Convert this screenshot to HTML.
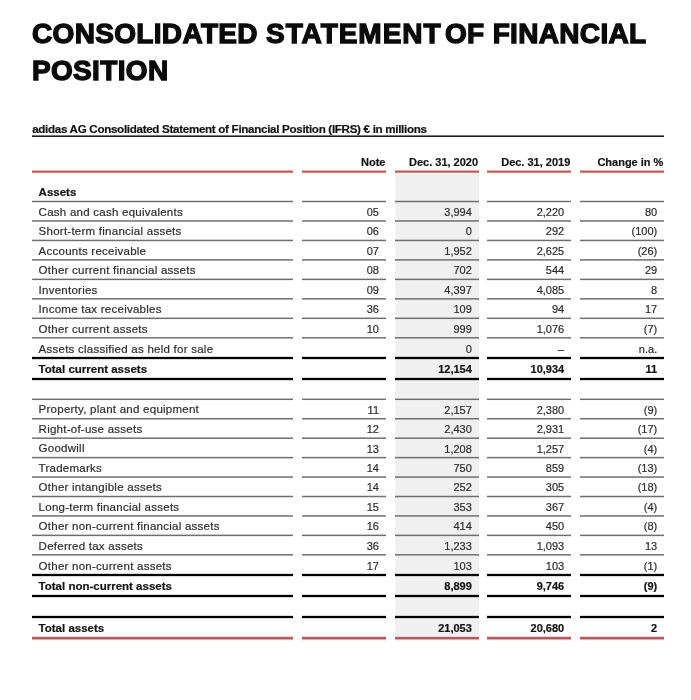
<!DOCTYPE html>
<html><head><meta charset="utf-8"><style>
html,body{margin:0;padding:0;background:#fff;}
body{width:691px;height:700px;position:relative;overflow:hidden;font-family:"Liberation Sans",Arial,sans-serif;}
.ln{position:absolute;}
#wrap{position:absolute;left:0;top:0;width:691px;height:700px;will-change:transform;background:#fff;}
.t{position:absolute;white-space:nowrap;line-height:0;height:0;font-size:11px;color:#2e2e2e;-webkit-text-stroke:0.2px currentColor;}
.t.r{text-align:right;}
.lb{letter-spacing:0.25px;font-size:11.5px;}
.hd{font-weight:bold;color:#141414;}
.bd{font-weight:bold;color:#141414;}
.lb.bd{letter-spacing:0px;}
h1{position:absolute;left:32px;top:0;margin:0;font-size:28px;line-height:37px;font-weight:bold;letter-spacing:0.33px;color:#0a0a0a;-webkit-text-stroke:1.3px #0a0a0a;}
.sub{position:absolute;left:32.2px;font-size:11.6px;font-weight:bold;color:#111;letter-spacing:-0.3px;-webkit-text-stroke:0.2px #111;}
</style></head><body><div id="wrap">
<h1 style="top:15.4px">CONSOLIDATED <span style="letter-spacing:0.95px;margin-right:-4.6px">STATEMENT</span> OF FINANCIAL<br>POSITION</h1>
<div class="t sub" style="top:128.7px">adidas AG Consolidated Statement of Financial Position (IFRS) € in millions</div>
<div class="ln" style="left:395px;top:173px;width:84px;height:464px;background:#f0f0f0"></div>
<div class="t r hd" style="right:305.50px;top:161.59px">Note</div>
<div class="t r hd" style="right:212.90px;top:161.59px">Dec. 31, 2020</div>
<div class="t r hd" style="right:120.70px;top:161.59px">Dec. 31, 2019</div>
<div class="t r hd" style="right:27.60px;top:161.59px">Change in %</div>
<div class="ln" style="left:32px;top:170px;width:261px;height:4px;background:linear-gradient(#f2a9ac 0px 1px,#b25a58 1px 2px,#c3948a 2px 3px,#f8ebe4 3px 4px)"></div>
<div class="ln" style="left:302px;top:170px;width:84px;height:4px;background:linear-gradient(#f2a9ac 0px 1px,#b25a58 1px 2px,#c3948a 2px 3px,#f8ebe4 3px 4px)"></div>
<div class="ln" style="left:395px;top:170px;width:84px;height:4px;background:linear-gradient(#f2a9ac 0px 1px,#b25a58 1px 2px,#c3948a 2px 3px,#f8ebe4 3px 4px)"></div>
<div class="ln" style="left:487px;top:170px;width:84px;height:4px;background:linear-gradient(#f2a9ac 0px 1px,#b25a58 1px 2px,#c3948a 2px 3px,#f8ebe4 3px 4px)"></div>
<div class="ln" style="left:580px;top:170px;width:84px;height:4px;background:linear-gradient(#f2a9ac 0px 1px,#b25a58 1px 2px,#c3948a 2px 3px,#f8ebe4 3px 4px)"></div>
<div class="t bd lb" style="left:38.6px;top:191.62px">Assets</div>
<div class="ln" style="left:32px;top:200px;width:261px;height:3px;background:linear-gradient(#dbdbdb 0px 1px,#6e6e6e 1px 2px,#dbdbdb 2px 3px)"></div>
<div class="ln" style="left:302px;top:200px;width:84px;height:3px;background:linear-gradient(#dbdbdb 0px 1px,#6e6e6e 1px 2px,#dbdbdb 2px 3px)"></div>
<div class="ln" style="left:395px;top:200px;width:84px;height:3px;background:linear-gradient(#d0d0d0 0px 1px,#6e6e6e 1px 2px,#d0d0d0 2px 3px)"></div>
<div class="ln" style="left:487px;top:200px;width:84px;height:3px;background:linear-gradient(#dbdbdb 0px 1px,#6e6e6e 1px 2px,#dbdbdb 2px 3px)"></div>
<div class="ln" style="left:580px;top:200px;width:84px;height:3px;background:linear-gradient(#dbdbdb 0px 1px,#6e6e6e 1px 2px,#dbdbdb 2px 3px)"></div>
<div class="ln" style="left:32px;top:220px;width:261px;height:2px;background:linear-gradient(#8e8e8e 0px 1px,#979797 1px 2px)"></div>
<div class="ln" style="left:302px;top:220px;width:84px;height:2px;background:linear-gradient(#8e8e8e 0px 1px,#979797 1px 2px)"></div>
<div class="ln" style="left:395px;top:220px;width:84px;height:2px;background:linear-gradient(#8b8b8b 0px 1px,#929292 1px 2px)"></div>
<div class="ln" style="left:487px;top:220px;width:84px;height:2px;background:linear-gradient(#8e8e8e 0px 1px,#979797 1px 2px)"></div>
<div class="ln" style="left:580px;top:220px;width:84px;height:2px;background:linear-gradient(#8e8e8e 0px 1px,#979797 1px 2px)"></div>
<div class="ln" style="left:32px;top:239px;width:261px;height:3px;background:linear-gradient(#d2d2d2 0px 1px,#6e6e6e 1px 2px,#e3e3e3 2px 3px)"></div>
<div class="ln" style="left:302px;top:239px;width:84px;height:3px;background:linear-gradient(#d2d2d2 0px 1px,#6e6e6e 1px 2px,#e3e3e3 2px 3px)"></div>
<div class="ln" style="left:395px;top:239px;width:84px;height:3px;background:linear-gradient(#c8c8c8 0px 1px,#6e6e6e 1px 2px,#d7d7d7 2px 3px)"></div>
<div class="ln" style="left:487px;top:239px;width:84px;height:3px;background:linear-gradient(#d2d2d2 0px 1px,#6e6e6e 1px 2px,#e3e3e3 2px 3px)"></div>
<div class="ln" style="left:580px;top:239px;width:84px;height:3px;background:linear-gradient(#d2d2d2 0px 1px,#6e6e6e 1px 2px,#e3e3e3 2px 3px)"></div>
<div class="ln" style="left:32px;top:259px;width:261px;height:2px;background:linear-gradient(#858585 0px 1px,#9f9f9f 1px 2px)"></div>
<div class="ln" style="left:302px;top:259px;width:84px;height:2px;background:linear-gradient(#858585 0px 1px,#9f9f9f 1px 2px)"></div>
<div class="ln" style="left:395px;top:259px;width:84px;height:2px;background:linear-gradient(#838383 0px 1px,#9a9a9a 1px 2px)"></div>
<div class="ln" style="left:487px;top:259px;width:84px;height:2px;background:linear-gradient(#858585 0px 1px,#9f9f9f 1px 2px)"></div>
<div class="ln" style="left:580px;top:259px;width:84px;height:2px;background:linear-gradient(#858585 0px 1px,#9f9f9f 1px 2px)"></div>
<div class="ln" style="left:32px;top:278px;width:261px;height:3px;background:linear-gradient(#c9c9c9 0px 1px,#6e6e6e 1px 2px,#ececec 2px 3px)"></div>
<div class="ln" style="left:302px;top:278px;width:84px;height:3px;background:linear-gradient(#c9c9c9 0px 1px,#6e6e6e 1px 2px,#ececec 2px 3px)"></div>
<div class="ln" style="left:395px;top:278px;width:84px;height:3px;background:linear-gradient(#c0c0c0 0px 1px,#6e6e6e 1px 2px,#dfdfdf 2px 3px)"></div>
<div class="ln" style="left:487px;top:278px;width:84px;height:3px;background:linear-gradient(#c9c9c9 0px 1px,#6e6e6e 1px 2px,#ececec 2px 3px)"></div>
<div class="ln" style="left:580px;top:278px;width:84px;height:3px;background:linear-gradient(#c9c9c9 0px 1px,#6e6e6e 1px 2px,#ececec 2px 3px)"></div>
<div class="ln" style="left:32px;top:298px;width:261px;height:2px;background:linear-gradient(#7d7d7d 0px 1px,#a8a8a8 1px 2px)"></div>
<div class="ln" style="left:302px;top:298px;width:84px;height:2px;background:linear-gradient(#7d7d7d 0px 1px,#a8a8a8 1px 2px)"></div>
<div class="ln" style="left:395px;top:298px;width:84px;height:2px;background:linear-gradient(#7b7b7b 0px 1px,#a2a2a2 1px 2px)"></div>
<div class="ln" style="left:487px;top:298px;width:84px;height:2px;background:linear-gradient(#7d7d7d 0px 1px,#a8a8a8 1px 2px)"></div>
<div class="ln" style="left:580px;top:298px;width:84px;height:2px;background:linear-gradient(#7d7d7d 0px 1px,#a8a8a8 1px 2px)"></div>
<div class="ln" style="left:32px;top:317px;width:261px;height:3px;background:linear-gradient(#c1c1c1 0px 1px,#6e6e6e 1px 2px,#f5f5f5 2px 3px)"></div>
<div class="ln" style="left:302px;top:317px;width:84px;height:3px;background:linear-gradient(#c1c1c1 0px 1px,#6e6e6e 1px 2px,#f5f5f5 2px 3px)"></div>
<div class="ln" style="left:395px;top:317px;width:84px;height:3px;background:linear-gradient(#b8b8b8 0px 1px,#6e6e6e 1px 2px,#e7e7e7 2px 3px)"></div>
<div class="ln" style="left:487px;top:317px;width:84px;height:3px;background:linear-gradient(#c1c1c1 0px 1px,#6e6e6e 1px 2px,#f5f5f5 2px 3px)"></div>
<div class="ln" style="left:580px;top:317px;width:84px;height:3px;background:linear-gradient(#c1c1c1 0px 1px,#6e6e6e 1px 2px,#f5f5f5 2px 3px)"></div>
<div class="ln" style="left:32px;top:337px;width:261px;height:2px;background:linear-gradient(#747474 0px 1px,#b1b1b1 1px 2px)"></div>
<div class="ln" style="left:302px;top:337px;width:84px;height:2px;background:linear-gradient(#747474 0px 1px,#b1b1b1 1px 2px)"></div>
<div class="ln" style="left:395px;top:337px;width:84px;height:2px;background:linear-gradient(#737373 0px 1px,#aaaaaa 1px 2px)"></div>
<div class="ln" style="left:487px;top:337px;width:84px;height:2px;background:linear-gradient(#747474 0px 1px,#b1b1b1 1px 2px)"></div>
<div class="ln" style="left:580px;top:337px;width:84px;height:2px;background:linear-gradient(#747474 0px 1px,#b1b1b1 1px 2px)"></div>
<div class="t lb " style="left:38.6px;top:211.69px">Cash and cash equivalents</div>
<div class="t r nm " style="right:312.00px;top:211.86px">05</div>
<div class="t r nm " style="right:219.20px;top:211.86px">3,994</div>
<div class="t r nm " style="right:126.80px;top:211.86px">2,220</div>
<div class="t r nm " style="right:33.80px;top:211.86px">80</div>
<div class="t lb " style="left:38.6px;top:231.16px">Short-term financial assets</div>
<div class="t r nm " style="right:312.00px;top:231.33px">06</div>
<div class="t r nm " style="right:219.20px;top:231.33px">0</div>
<div class="t r nm " style="right:126.80px;top:231.33px">292</div>
<div class="t r nm " style="right:33.80px;top:231.33px">(100)</div>
<div class="t lb " style="left:38.6px;top:250.63px">Accounts receivable</div>
<div class="t r nm " style="right:312.00px;top:250.80px">07</div>
<div class="t r nm " style="right:219.20px;top:250.80px">1,952</div>
<div class="t r nm " style="right:126.80px;top:250.80px">2,625</div>
<div class="t r nm " style="right:33.80px;top:250.80px">(26)</div>
<div class="t lb " style="left:38.6px;top:270.10px">Other current financial assets</div>
<div class="t r nm " style="right:312.00px;top:270.27px">08</div>
<div class="t r nm " style="right:219.20px;top:270.27px">702</div>
<div class="t r nm " style="right:126.80px;top:270.27px">544</div>
<div class="t r nm " style="right:33.80px;top:270.27px">29</div>
<div class="t lb " style="left:38.6px;top:289.57px">Inventories</div>
<div class="t r nm " style="right:312.00px;top:289.74px">09</div>
<div class="t r nm " style="right:219.20px;top:289.74px">4,397</div>
<div class="t r nm " style="right:126.80px;top:289.74px">4,085</div>
<div class="t r nm " style="right:33.80px;top:289.74px">8</div>
<div class="t lb " style="left:38.6px;top:309.04px">Income tax receivables</div>
<div class="t r nm " style="right:312.00px;top:309.21px">36</div>
<div class="t r nm " style="right:219.20px;top:309.21px">109</div>
<div class="t r nm " style="right:126.80px;top:309.21px">94</div>
<div class="t r nm " style="right:33.80px;top:309.21px">17</div>
<div class="t lb " style="left:38.6px;top:328.51px">Other current assets</div>
<div class="t r nm " style="right:312.00px;top:328.68px">10</div>
<div class="t r nm " style="right:219.20px;top:328.68px">999</div>
<div class="t r nm " style="right:126.80px;top:328.68px">1,076</div>
<div class="t r nm " style="right:33.80px;top:328.68px">(7)</div>
<div class="t lb " style="left:38.6px;top:348.72px">Assets classified as held for sale</div>
<div class="t r nm " style="right:219.20px;top:348.89px">0</div>
<div class="t r nm " style="right:126.80px;top:348.89px">–</div>
<div class="t r nm " style="right:33.80px;top:348.89px">n.a.</div>
<div class="ln" style="left:32px;top:356px;width:261px;height:4px;background:linear-gradient(#d9d9d9 0px 1px,#000000 1px 2px,#000000 2px 3px,#d9d9d9 3px 4px)"></div>
<div class="ln" style="left:302px;top:356px;width:84px;height:4px;background:linear-gradient(#d9d9d9 0px 1px,#000000 1px 2px,#000000 2px 3px,#d9d9d9 3px 4px)"></div>
<div class="ln" style="left:395px;top:356px;width:84px;height:4px;background:linear-gradient(#cccccc 0px 1px,#000000 1px 2px,#000000 2px 3px,#cccccc 3px 4px)"></div>
<div class="ln" style="left:487px;top:356px;width:84px;height:4px;background:linear-gradient(#d9d9d9 0px 1px,#000000 1px 2px,#000000 2px 3px,#d9d9d9 3px 4px)"></div>
<div class="ln" style="left:580px;top:356px;width:84px;height:4px;background:linear-gradient(#d9d9d9 0px 1px,#000000 1px 2px,#000000 2px 3px,#d9d9d9 3px 4px)"></div>
<div class="t lb bd" style="left:38.6px;top:369.22px">Total current assets</div>
<div class="t r nm bd" style="right:219.20px;top:369.39px">12,154</div>
<div class="t r nm bd" style="right:126.80px;top:369.39px">10,934</div>
<div class="t r nm bd" style="right:33.80px;top:369.39px">11</div>
<div class="ln" style="left:32px;top:377px;width:261px;height:4px;background:linear-gradient(#d9d9d9 0px 1px,#000000 1px 2px,#000000 2px 3px,#d9d9d9 3px 4px)"></div>
<div class="ln" style="left:302px;top:377px;width:84px;height:4px;background:linear-gradient(#d9d9d9 0px 1px,#000000 1px 2px,#000000 2px 3px,#d9d9d9 3px 4px)"></div>
<div class="ln" style="left:395px;top:377px;width:84px;height:4px;background:linear-gradient(#cccccc 0px 1px,#000000 1px 2px,#000000 2px 3px,#cccccc 3px 4px)"></div>
<div class="ln" style="left:487px;top:377px;width:84px;height:4px;background:linear-gradient(#d9d9d9 0px 1px,#000000 1px 2px,#000000 2px 3px,#d9d9d9 3px 4px)"></div>
<div class="ln" style="left:580px;top:377px;width:84px;height:4px;background:linear-gradient(#d9d9d9 0px 1px,#000000 1px 2px,#000000 2px 3px,#d9d9d9 3px 4px)"></div>
<div class="ln" style="left:32px;top:398px;width:261px;height:3px;background:linear-gradient(#bebebe 0px 1px,#6e6e6e 1px 2px,#f8f8f8 2px 3px)"></div>
<div class="ln" style="left:302px;top:398px;width:84px;height:3px;background:linear-gradient(#bebebe 0px 1px,#6e6e6e 1px 2px,#f8f8f8 2px 3px)"></div>
<div class="ln" style="left:395px;top:398px;width:84px;height:3px;background:linear-gradient(#b6b6b6 0px 1px,#6e6e6e 1px 2px,#e9e9e9 2px 3px)"></div>
<div class="ln" style="left:487px;top:398px;width:84px;height:3px;background:linear-gradient(#bebebe 0px 1px,#6e6e6e 1px 2px,#f8f8f8 2px 3px)"></div>
<div class="ln" style="left:580px;top:398px;width:84px;height:3px;background:linear-gradient(#bebebe 0px 1px,#6e6e6e 1px 2px,#f8f8f8 2px 3px)"></div>
<div class="ln" style="left:32px;top:417px;width:261px;height:3px;background:linear-gradient(#fefefe 0px 1px,#6e6e6e 1px 2px,#b8b8b8 2px 3px)"></div>
<div class="ln" style="left:302px;top:417px;width:84px;height:3px;background:linear-gradient(#fefefe 0px 1px,#6e6e6e 1px 2px,#b8b8b8 2px 3px)"></div>
<div class="ln" style="left:395px;top:417px;width:84px;height:3px;background:linear-gradient(#efefef 0px 1px,#6e6e6e 1px 2px,#b0b0b0 2px 3px)"></div>
<div class="ln" style="left:487px;top:417px;width:84px;height:3px;background:linear-gradient(#fefefe 0px 1px,#6e6e6e 1px 2px,#b8b8b8 2px 3px)"></div>
<div class="ln" style="left:580px;top:417px;width:84px;height:3px;background:linear-gradient(#fefefe 0px 1px,#6e6e6e 1px 2px,#b8b8b8 2px 3px)"></div>
<div class="ln" style="left:32px;top:437px;width:261px;height:2px;background:linear-gradient(#acacac 0px 1px,#787878 1px 2px)"></div>
<div class="ln" style="left:302px;top:437px;width:84px;height:2px;background:linear-gradient(#acacac 0px 1px,#787878 1px 2px)"></div>
<div class="ln" style="left:395px;top:437px;width:84px;height:2px;background:linear-gradient(#a6a6a6 0px 1px,#777777 1px 2px)"></div>
<div class="ln" style="left:487px;top:437px;width:84px;height:2px;background:linear-gradient(#acacac 0px 1px,#787878 1px 2px)"></div>
<div class="ln" style="left:580px;top:437px;width:84px;height:2px;background:linear-gradient(#acacac 0px 1px,#787878 1px 2px)"></div>
<div class="ln" style="left:32px;top:456px;width:261px;height:3px;background:linear-gradient(#ececec 0px 1px,#6e6e6e 1px 2px,#c9c9c9 2px 3px)"></div>
<div class="ln" style="left:302px;top:456px;width:84px;height:3px;background:linear-gradient(#ececec 0px 1px,#6e6e6e 1px 2px,#c9c9c9 2px 3px)"></div>
<div class="ln" style="left:395px;top:456px;width:84px;height:3px;background:linear-gradient(#dfdfdf 0px 1px,#6e6e6e 1px 2px,#c0c0c0 2px 3px)"></div>
<div class="ln" style="left:487px;top:456px;width:84px;height:3px;background:linear-gradient(#ececec 0px 1px,#6e6e6e 1px 2px,#c9c9c9 2px 3px)"></div>
<div class="ln" style="left:580px;top:456px;width:84px;height:3px;background:linear-gradient(#ececec 0px 1px,#6e6e6e 1px 2px,#c9c9c9 2px 3px)"></div>
<div class="ln" style="left:32px;top:476px;width:261px;height:2px;background:linear-gradient(#9b9b9b 0px 1px,#8a8a8a 1px 2px)"></div>
<div class="ln" style="left:302px;top:476px;width:84px;height:2px;background:linear-gradient(#9b9b9b 0px 1px,#8a8a8a 1px 2px)"></div>
<div class="ln" style="left:395px;top:476px;width:84px;height:2px;background:linear-gradient(#969696 0px 1px,#878787 1px 2px)"></div>
<div class="ln" style="left:487px;top:476px;width:84px;height:2px;background:linear-gradient(#9b9b9b 0px 1px,#8a8a8a 1px 2px)"></div>
<div class="ln" style="left:580px;top:476px;width:84px;height:2px;background:linear-gradient(#9b9b9b 0px 1px,#8a8a8a 1px 2px)"></div>
<div class="ln" style="left:32px;top:495px;width:261px;height:3px;background:linear-gradient(#dbdbdb 0px 1px,#6e6e6e 1px 2px,#dbdbdb 2px 3px)"></div>
<div class="ln" style="left:302px;top:495px;width:84px;height:3px;background:linear-gradient(#dbdbdb 0px 1px,#6e6e6e 1px 2px,#dbdbdb 2px 3px)"></div>
<div class="ln" style="left:395px;top:495px;width:84px;height:3px;background:linear-gradient(#d0d0d0 0px 1px,#6e6e6e 1px 2px,#d0d0d0 2px 3px)"></div>
<div class="ln" style="left:487px;top:495px;width:84px;height:3px;background:linear-gradient(#dbdbdb 0px 1px,#6e6e6e 1px 2px,#dbdbdb 2px 3px)"></div>
<div class="ln" style="left:580px;top:495px;width:84px;height:3px;background:linear-gradient(#dbdbdb 0px 1px,#6e6e6e 1px 2px,#dbdbdb 2px 3px)"></div>
<div class="ln" style="left:32px;top:515px;width:261px;height:2px;background:linear-gradient(#8a8a8a 0px 1px,#9b9b9b 1px 2px)"></div>
<div class="ln" style="left:302px;top:515px;width:84px;height:2px;background:linear-gradient(#8a8a8a 0px 1px,#9b9b9b 1px 2px)"></div>
<div class="ln" style="left:395px;top:515px;width:84px;height:2px;background:linear-gradient(#878787 0px 1px,#969696 1px 2px)"></div>
<div class="ln" style="left:487px;top:515px;width:84px;height:2px;background:linear-gradient(#8a8a8a 0px 1px,#9b9b9b 1px 2px)"></div>
<div class="ln" style="left:580px;top:515px;width:84px;height:2px;background:linear-gradient(#8a8a8a 0px 1px,#9b9b9b 1px 2px)"></div>
<div class="ln" style="left:32px;top:534px;width:261px;height:3px;background:linear-gradient(#c9c9c9 0px 1px,#6e6e6e 1px 2px,#ececec 2px 3px)"></div>
<div class="ln" style="left:302px;top:534px;width:84px;height:3px;background:linear-gradient(#c9c9c9 0px 1px,#6e6e6e 1px 2px,#ececec 2px 3px)"></div>
<div class="ln" style="left:395px;top:534px;width:84px;height:3px;background:linear-gradient(#c0c0c0 0px 1px,#6e6e6e 1px 2px,#dfdfdf 2px 3px)"></div>
<div class="ln" style="left:487px;top:534px;width:84px;height:3px;background:linear-gradient(#c9c9c9 0px 1px,#6e6e6e 1px 2px,#ececec 2px 3px)"></div>
<div class="ln" style="left:580px;top:534px;width:84px;height:3px;background:linear-gradient(#c9c9c9 0px 1px,#6e6e6e 1px 2px,#ececec 2px 3px)"></div>
<div class="ln" style="left:32px;top:554px;width:261px;height:2px;background:linear-gradient(#787878 0px 1px,#acacac 1px 2px)"></div>
<div class="ln" style="left:302px;top:554px;width:84px;height:2px;background:linear-gradient(#787878 0px 1px,#acacac 1px 2px)"></div>
<div class="ln" style="left:395px;top:554px;width:84px;height:2px;background:linear-gradient(#777777 0px 1px,#a6a6a6 1px 2px)"></div>
<div class="ln" style="left:487px;top:554px;width:84px;height:2px;background:linear-gradient(#787878 0px 1px,#acacac 1px 2px)"></div>
<div class="ln" style="left:580px;top:554px;width:84px;height:2px;background:linear-gradient(#787878 0px 1px,#acacac 1px 2px)"></div>
<div class="t lb " style="left:38.6px;top:409.46px">Property, plant and equipment</div>
<div class="t r nm " style="right:312.00px;top:409.63px">11</div>
<div class="t r nm " style="right:219.20px;top:409.63px">2,157</div>
<div class="t r nm " style="right:126.80px;top:409.63px">2,380</div>
<div class="t r nm " style="right:33.80px;top:409.63px">(9)</div>
<div class="t lb " style="left:38.6px;top:428.90px">Right-of-use assets</div>
<div class="t r nm " style="right:312.00px;top:429.07px">12</div>
<div class="t r nm " style="right:219.20px;top:429.07px">2,430</div>
<div class="t r nm " style="right:126.80px;top:429.07px">2,931</div>
<div class="t r nm " style="right:33.80px;top:429.07px">(17)</div>
<div class="t lb " style="left:38.6px;top:448.34px">Goodwill</div>
<div class="t r nm " style="right:312.00px;top:448.51px">13</div>
<div class="t r nm " style="right:219.20px;top:448.51px">1,208</div>
<div class="t r nm " style="right:126.80px;top:448.51px">1,257</div>
<div class="t r nm " style="right:33.80px;top:448.51px">(4)</div>
<div class="t lb " style="left:38.6px;top:467.78px">Trademarks</div>
<div class="t r nm " style="right:312.00px;top:467.95px">14</div>
<div class="t r nm " style="right:219.20px;top:467.95px">750</div>
<div class="t r nm " style="right:126.80px;top:467.95px">859</div>
<div class="t r nm " style="right:33.80px;top:467.95px">(13)</div>
<div class="t lb " style="left:38.6px;top:487.22px">Other intangible assets</div>
<div class="t r nm " style="right:312.00px;top:487.39px">14</div>
<div class="t r nm " style="right:219.20px;top:487.39px">252</div>
<div class="t r nm " style="right:126.80px;top:487.39px">305</div>
<div class="t r nm " style="right:33.80px;top:487.39px">(18)</div>
<div class="t lb " style="left:38.6px;top:506.66px">Long-term financial assets</div>
<div class="t r nm " style="right:312.00px;top:506.83px">15</div>
<div class="t r nm " style="right:219.20px;top:506.83px">353</div>
<div class="t r nm " style="right:126.80px;top:506.83px">367</div>
<div class="t r nm " style="right:33.80px;top:506.83px">(4)</div>
<div class="t lb " style="left:38.6px;top:526.10px">Other non-current financial assets</div>
<div class="t r nm " style="right:312.00px;top:526.27px">16</div>
<div class="t r nm " style="right:219.20px;top:526.27px">414</div>
<div class="t r nm " style="right:126.80px;top:526.27px">450</div>
<div class="t r nm " style="right:33.80px;top:526.27px">(8)</div>
<div class="t lb " style="left:38.6px;top:545.54px">Deferred tax assets</div>
<div class="t r nm " style="right:312.00px;top:545.71px">36</div>
<div class="t r nm " style="right:219.20px;top:545.71px">1,233</div>
<div class="t r nm " style="right:126.80px;top:545.71px">1,093</div>
<div class="t r nm " style="right:33.80px;top:545.71px">13</div>
<div class="t lb " style="left:38.6px;top:565.72px">Other non-current assets</div>
<div class="t r nm " style="right:312.00px;top:565.89px">17</div>
<div class="t r nm " style="right:219.20px;top:565.89px">103</div>
<div class="t r nm " style="right:126.80px;top:565.89px">103</div>
<div class="t r nm " style="right:33.80px;top:565.89px">(1)</div>
<div class="ln" style="left:32px;top:573px;width:261px;height:4px;background:linear-gradient(#d9d9d9 0px 1px,#000000 1px 2px,#000000 2px 3px,#d9d9d9 3px 4px)"></div>
<div class="ln" style="left:302px;top:573px;width:84px;height:4px;background:linear-gradient(#d9d9d9 0px 1px,#000000 1px 2px,#000000 2px 3px,#d9d9d9 3px 4px)"></div>
<div class="ln" style="left:395px;top:573px;width:84px;height:4px;background:linear-gradient(#cccccc 0px 1px,#000000 1px 2px,#000000 2px 3px,#cccccc 3px 4px)"></div>
<div class="ln" style="left:487px;top:573px;width:84px;height:4px;background:linear-gradient(#d9d9d9 0px 1px,#000000 1px 2px,#000000 2px 3px,#d9d9d9 3px 4px)"></div>
<div class="ln" style="left:580px;top:573px;width:84px;height:4px;background:linear-gradient(#d9d9d9 0px 1px,#000000 1px 2px,#000000 2px 3px,#d9d9d9 3px 4px)"></div>
<div class="t lb bd" style="left:38.6px;top:586.22px">Total non-current assets</div>
<div class="t r nm bd" style="right:219.20px;top:586.39px">8,899</div>
<div class="t r nm bd" style="right:126.80px;top:586.39px">9,746</div>
<div class="t r nm bd" style="right:33.80px;top:586.39px">(9)</div>
<div class="ln" style="left:32px;top:594px;width:261px;height:4px;background:linear-gradient(#d9d9d9 0px 1px,#000000 1px 2px,#000000 2px 3px,#d9d9d9 3px 4px)"></div>
<div class="ln" style="left:302px;top:594px;width:84px;height:4px;background:linear-gradient(#d9d9d9 0px 1px,#000000 1px 2px,#000000 2px 3px,#d9d9d9 3px 4px)"></div>
<div class="ln" style="left:395px;top:594px;width:84px;height:4px;background:linear-gradient(#cccccc 0px 1px,#000000 1px 2px,#000000 2px 3px,#cccccc 3px 4px)"></div>
<div class="ln" style="left:487px;top:594px;width:84px;height:4px;background:linear-gradient(#d9d9d9 0px 1px,#000000 1px 2px,#000000 2px 3px,#d9d9d9 3px 4px)"></div>
<div class="ln" style="left:580px;top:594px;width:84px;height:4px;background:linear-gradient(#d9d9d9 0px 1px,#000000 1px 2px,#000000 2px 3px,#d9d9d9 3px 4px)"></div>
<div class="ln" style="left:32px;top:615px;width:261px;height:4px;background:linear-gradient(#d9d9d9 0px 1px,#000000 1px 2px,#000000 2px 3px,#d9d9d9 3px 4px)"></div>
<div class="ln" style="left:302px;top:615px;width:84px;height:4px;background:linear-gradient(#d9d9d9 0px 1px,#000000 1px 2px,#000000 2px 3px,#d9d9d9 3px 4px)"></div>
<div class="ln" style="left:395px;top:615px;width:84px;height:4px;background:linear-gradient(#cccccc 0px 1px,#000000 1px 2px,#000000 2px 3px,#cccccc 3px 4px)"></div>
<div class="ln" style="left:487px;top:615px;width:84px;height:4px;background:linear-gradient(#d9d9d9 0px 1px,#000000 1px 2px,#000000 2px 3px,#d9d9d9 3px 4px)"></div>
<div class="ln" style="left:580px;top:615px;width:84px;height:4px;background:linear-gradient(#d9d9d9 0px 1px,#000000 1px 2px,#000000 2px 3px,#d9d9d9 3px 4px)"></div>
<div class="t lb bd" style="left:38.6px;top:628.22px">Total assets</div>
<div class="t r nm bd" style="right:219.20px;top:628.39px">21,053</div>
<div class="t r nm bd" style="right:126.80px;top:628.39px">20,680</div>
<div class="t r nm bd" style="right:33.80px;top:628.39px">2</div>
<div class="ln" style="left:32px;top:636px;width:261px;height:5px;background:linear-gradient(#fbd0d3 0px 1px,#b0606a 1px 2px,#aa5b5d 2px 3px,#dcaeab 3px 4px,#fdf0ea 4px 5px)"></div>
<div class="ln" style="left:302px;top:636px;width:84px;height:5px;background:linear-gradient(#fbd0d3 0px 1px,#b0606a 1px 2px,#aa5b5d 2px 3px,#dcaeab 3px 4px,#fdf0ea 4px 5px)"></div>
<div class="ln" style="left:395px;top:636px;width:84px;height:5px;background:linear-gradient(#fbd0d3 0px 1px,#b0606a 1px 2px,#aa5b5d 2px 3px,#dcaeab 3px 4px,#fdf0ea 4px 5px)"></div>
<div class="ln" style="left:487px;top:636px;width:84px;height:5px;background:linear-gradient(#fbd0d3 0px 1px,#b0606a 1px 2px,#aa5b5d 2px 3px,#dcaeab 3px 4px,#fdf0ea 4px 5px)"></div>
<div class="ln" style="left:580px;top:636px;width:84px;height:5px;background:linear-gradient(#fbd0d3 0px 1px,#b0606a 1px 2px,#aa5b5d 2px 3px,#dcaeab 3px 4px,#fdf0ea 4px 5px)"></div>
<div class="ln" style="left:32px;top:135px;width:632px;height:2px;background:linear-gradient(#787878 0px 1px,#1e1e1e 1px 2px)"></div>
</div></body></html>
